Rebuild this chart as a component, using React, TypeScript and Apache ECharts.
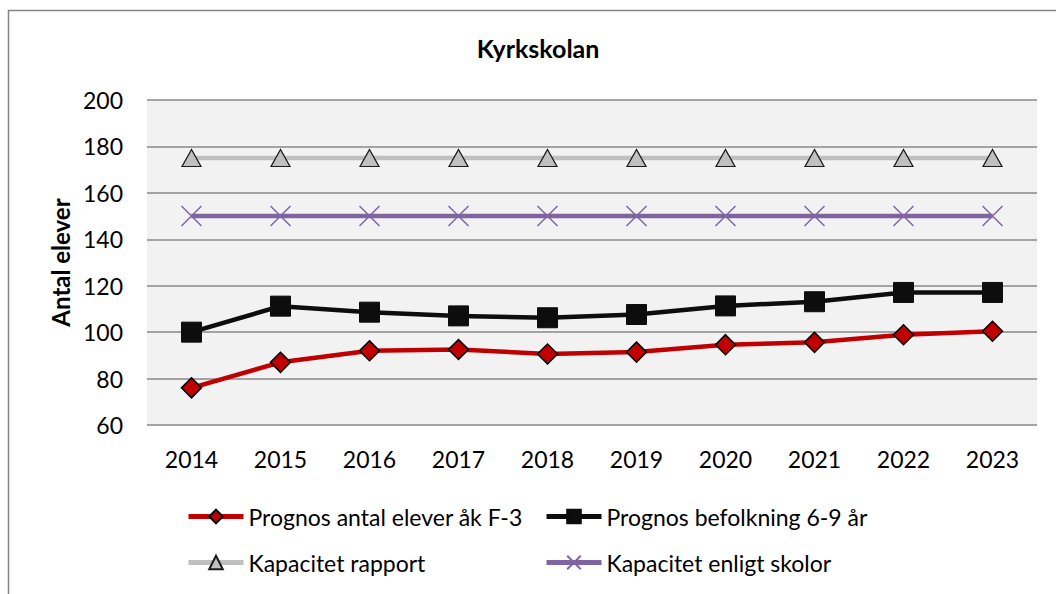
import React, { useEffect, useRef } from "react";
import * as echarts from "echarts";

const years = ["2014", "2015", "2016", "2017", "2018", "2019", "2020", "2021", "2022", "2023"];
const prognosElever = [76, 87, 92, 92.5, 90.6, 91.4, 94.6, 95.6, 98.9, 100.4];
const prognosBefolkning = [100, 111.2, 108.6, 107, 106.2, 107.6, 111.3, 113.1, 117.1, 117.1];
const kapacitetRapport = [175, 175, 175, 175, 175, 175, 175, 175, 175, 175];
const kapacitetSkolor = [150, 150, 150, 150, 150, 150, 150, 150, 150, 150];

const seriesNames = [
  "Prognos antal elever åk F-3",
  "Prognos befolkning 6-9 år",
  "Kapacitet rapport",
  "Kapacitet enligt skolor",
];

const FONT = "Lato, 'Open Sans', sans-serif";

export default function App() {
  const ref = useRef<HTMLDivElement>(null);
  useEffect(() => {
    document.body.style.margin = "0";
    const chart = echarts.init(ref.current!, null, { renderer: "svg" });
    const legendPos = [
      { left: 186, top: 505 },
      { left: 544, top: 505 },
      { left: 186, top: 551 },
      { left: 544, top: 551 },
    ];
    chart.setOption({
      animation: false,
      backgroundColor: "#ffffff",
      textStyle: { fontFamily: FONT },
      graphic: [
        {
          type: "rect",
          shape: { x: 8.5, y: 10.5, width: 1100, height: 700 },
          style: { fill: "none", stroke: "#868686", lineWidth: 1.5 },
          silent: true,
          z: -10,
        },
        {
          type: "text",
          x: 538,
          y: 48,
          style: {
            text: "Kyrkskolan",
            fontFamily: FONT,
            fontSize: 25,
            fontWeight: "bold",
            fill: "#000",
            textAlign: "center",
            textVerticalAlign: "middle",
          },
        },
      ],
      grid: {
        left: 147,
        top: 100,
        width: 890,
        height: 325,
        show: true,
        backgroundColor: "#f2f2f2",
        borderWidth: 0,
      },
      legend: seriesNames.map((n, i) => ({
        data: [n],
        left: legendPos[i].left,
        top: legendPos[i].top,
        padding: 0,
        itemWidth: 55,
        itemHeight: 17,
        itemGap: 4,
        lineStyle: { width: 5 },
        textStyle: { fontFamily: FONT, fontSize: 23, color: "#000" },
        selectedMode: false,
      })),
      xAxis: {
        type: "category",
        data: years,
        boundaryGap: true,
        axisLine: { show: false },
        axisTick: { show: false },
        axisLabel: { fontFamily: FONT, fontSize: 23, color: "#000", margin: 22 },
      },
      yAxis: {
        type: "value",
        min: 60,
        max: 200,
        interval: 20,
        name: "Antal elever",
        nameLocation: "middle",
        nameGap: 74,
        nameTextStyle: { fontFamily: FONT, fontSize: 24, fontWeight: "bold", color: "#000" },
        axisLine: { show: false },
        axisTick: { show: false },
        axisLabel: { fontFamily: FONT, fontSize: 23, color: "#000", margin: 24 },
        splitLine: { lineStyle: { color: "#888888", width: 1.5 } },
      },
      series: [
        {
          name: seriesNames[0],
          type: "line",
          data: prognosElever,
          symbol: "diamond",
          symbolSize: 20,
          lineStyle: { color: "#c00000", width: 4.5 },
          itemStyle: { color: "#c00000", borderColor: "#000", borderWidth: 1.5 },
          z: 5,
        },
        {
          name: seriesNames[1],
          type: "line",
          data: prognosBefolkning,
          symbol: "rect",
          symbolSize: 20,
          lineStyle: { color: "#0d0d0d", width: 4.5 },
          itemStyle: { color: "#0d0d0d", borderColor: "#0d0d0d", borderWidth: 1 },
          z: 4,
        },
        {
          name: seriesNames[2],
          type: "line",
          data: kapacitetRapport,
          symbol: "triangle",
          symbolSize: [19, 17],
          lineStyle: { color: "#c0c0c0", width: 4.5 },
          itemStyle: { color: "#c0c0c0", borderColor: "#1a1a1a", borderWidth: 1.2 },
          z: 3,
        },
        {
          name: seriesNames[3],
          type: "line",
          data: kapacitetSkolor,
          symbol: "path://M0,0L10,10M10,0L0,10",
          symbolSize: 20,
          lineStyle: { color: "#8064a2", width: 4.5 },
          itemStyle: { color: "none", borderColor: "#8064a2", borderWidth: 1.5 },
          z: 3,
        },
      ],
    });
    return () => chart.dispose();
  }, []);
  return <div ref={ref} style={{ width: 1056, height: 594, position: "absolute", left: 0, top: 0 }} />;
}
